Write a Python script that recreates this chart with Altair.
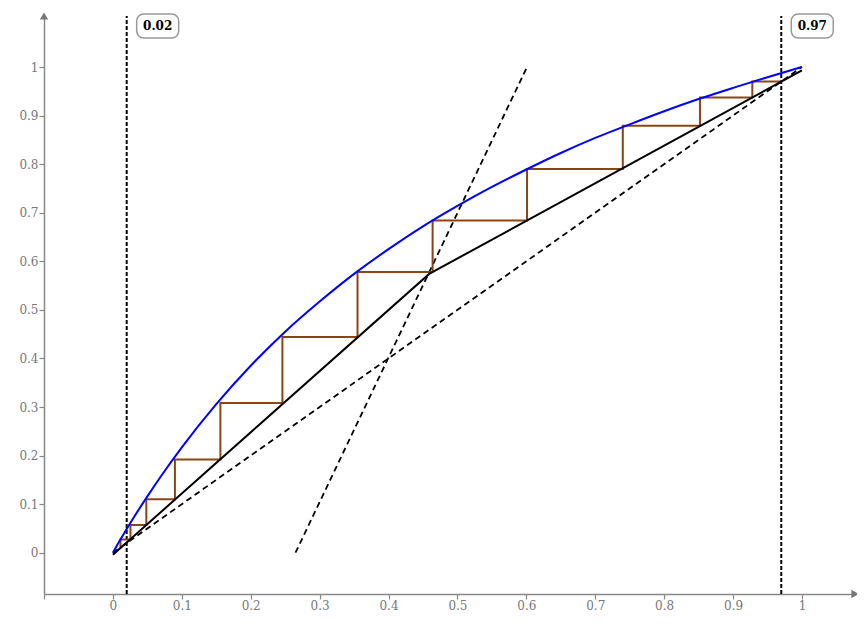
import altair as alt
import pandas as pd

# Equilibrium curve
eq_x = [0, 0.01, 0.02, 0.03, 0.05, 0.07, 0.1, 0.15, 0.2, 0.25, 0.3, 0.35, 0.4,
        0.45, 0.5, 0.55, 0.6, 0.65, 0.7, 0.75, 0.8, 0.85, 0.9, 0.95, 1.0]
eq_y = [0, 0.025, 0.049, 0.072, 0.116, 0.158, 0.217, 0.306, 0.385, 0.455, 0.517,
        0.574, 0.625, 0.672, 0.714, 0.753, 0.789, 0.823, 0.854, 0.882, 0.909,
        0.934, 0.957, 0.979, 1.0]

# Operating lines (stripping + rectifying)
op_x = [0.0, 0.459, 1.0]
op_y = [-0.004, 0.574, 0.993]

# Diagonal and q-line (dashed)
diag_x = [0.0, 1.0]
diag_y = [0.0, 1.0]
q_x = [0.265, 0.601]
q_y = [0.0, 1.0]

# Staircase
st_x = [0.97, 0.928, 0.928, 0.852, 0.852, 0.740, 0.740, 0.601, 0.601, 0.464, 0.464,
        0.355, 0.355, 0.246, 0.246, 0.156, 0.156, 0.090, 0.090, 0.0485, 0.0485,
        0.0255, 0.0255, 0.011, 0.011]
st_y = [0.97, 0.97, 0.937, 0.937, 0.879, 0.879, 0.790, 0.790, 0.684, 0.684, 0.578,
        0.578, 0.444, 0.444, 0.308, 0.308, 0.192, 0.192, 0.110, 0.110, 0.057,
        0.057, 0.027, 0.027, 0.009]

# Compositions xW, xD
comp = [0.02, 0.97]
comp_labels = ["0.02", "0.97"]

x_min, x_max = -0.1, 1.077
y_min, y_max = -0.085, 1.105
x_ticks = [-0.1, 0, 0.1, 0.2, 0.3, 0.4, 0.5, 0.6, 0.7, 0.8, 0.9, 1]
y_ticks = [0, 0.1, 0.2, 0.3, 0.4, 0.5, 0.6, 0.7, 0.8, 0.9, 1]

xs = alt.Scale(domain=[x_min, x_max], nice=False, zero=False)
ys = alt.Scale(domain=[y_min, y_max], nice=False, zero=False)

label_expr = "datum.value < -0.05 ? '' : datum.label"
xaxis = alt.Axis(values=x_ticks, format="~g", labelExpr=label_expr, title=None, grid=False)
yaxis = alt.Axis(values=y_ticks, format="~g", title=None, grid=False)

X = lambda f: alt.X(f, type="quantitative", scale=xs, axis=xaxis)
Y = lambda f: alt.Y(f, type="quantitative", scale=ys, axis=yaxis)

eq_df = pd.DataFrame({"x": eq_x, "y": eq_y})
op_df = pd.DataFrame({"x": op_x, "y": op_y})
dash_df = pd.DataFrame({
    "x": diag_x + q_x,
    "y": diag_y + q_y,
    "name": ["diag"] * len(diag_x) + ["q"] * len(q_x),
    "i": list(range(len(diag_x))) + list(range(len(q_x))),
})
st_df = pd.DataFrame({"x": st_x, "y": st_y, "i": list(range(len(st_x)))})
vert_df = pd.DataFrame({
    "x": comp + comp,
    "y": [y_min] * len(comp) + [y_max] * len(comp),
    "name": comp_labels + comp_labels,
})
lab_df = pd.DataFrame({"x": comp, "y": [y_max] * len(comp), "label": comp_labels})
arrow_df = pd.DataFrame({"x": [x_max, x_min], "y": [y_min, y_max],
                         "shape": ["triangle-right", "triangle-up"]})

eq = alt.Chart(eq_df).mark_line(color="#0000ff", strokeWidth=2, interpolate="monotone").encode(
    x=X("x"), y=Y("y"))
op = alt.Chart(op_df).mark_line(color="black", strokeWidth=2).encode(x=X("x"), y=Y("y"))
dash = alt.Chart(dash_df).mark_line(color="black", strokeWidth=1.8, strokeDash=[6, 4]).encode(
    x=X("x"), y=Y("y"), detail="name:N", order="i:Q")
stairs = alt.Chart(st_df).mark_line(color="#8b4513", strokeWidth=2).encode(
    x=X("x"), y=Y("y"), order="i:Q")
verts = alt.Chart(vert_df).mark_line(color="black", strokeWidth=2, strokeDash=[4, 2]).encode(
    x=X("x"), y=Y("y"), detail="name:N")
boxes = alt.Chart(lab_df).mark_rect(
    fill="white", stroke="#999999", strokeWidth=1.5, cornerRadius=7,
    xOffset=10, x2Offset=52, yOffset=-2, y2Offset=22).encode(
    x=X("x"), x2="x", y=Y("y"), y2="y")
labels = alt.Chart(lab_df).mark_text(
    font="DejaVu Serif", fontSize=12, fontWeight="bold", color="black",
    dx=31, dy=10, align="center", baseline="middle").encode(
    x=X("x"), y=Y("y"), text="label:N")
arrows = alt.Chart(arrow_df).mark_point(filled=True, color="#777777", size=70, opacity=1).encode(
    x=X("x"), y=Y("y"), shape=alt.Shape("shape:N", scale=None))

chart = alt.layer(verts, dash, stairs, op, eq, boxes, labels, arrows).properties(
    width=811, height=578,
    autosize=alt.AutoSizeParams(type="none"),
    padding={"left": 36, "top": 8, "right": 2, "bottom": 18},
).configure_view(stroke=None).configure_axis(
    domainColor="#888888", domainWidth=1.5, tickColor="#888888", tickWidth=1.2,
    tickSize=5, labelColor="#777777", labelFont="DejaVu Serif", labelFontSize=12,
    labelPadding=1,
)

chart.save("out.html", embed_options={"renderer": "svg", "actions": False})
